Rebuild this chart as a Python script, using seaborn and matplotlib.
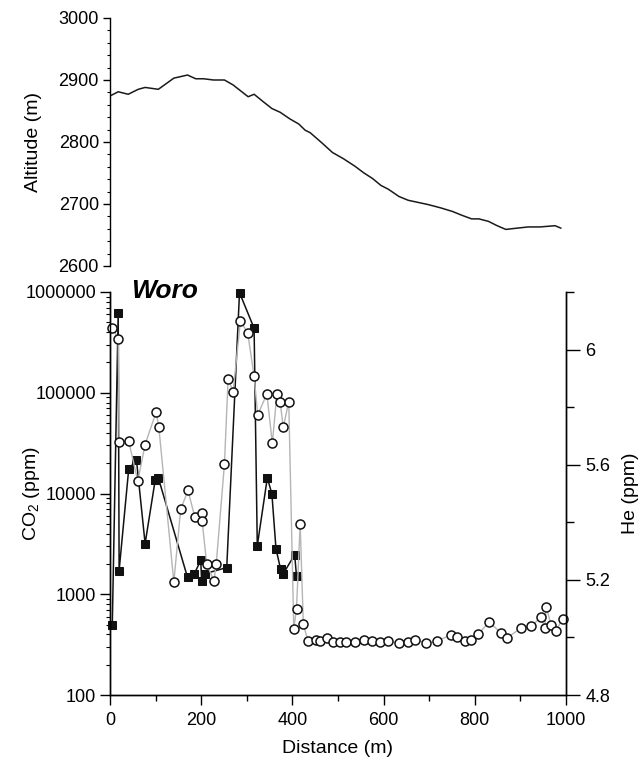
import numpy as np
import matplotlib
matplotlib.use("Agg")
import matplotlib.pyplot as plt
import seaborn as sns
from matplotlib.ticker import FixedLocator, LogLocator, NullFormatter, FuncFormatter, MultipleLocator

# === Altitude profile ===
alt_dist = [2, 18, 40, 62, 77, 106, 140, 170, 188, 205, 227, 251, 270, 303, 316, 336,
            355, 373, 395, 414, 428, 439, 464, 488, 512, 537, 557, 576, 594, 610, 634,
            654, 673, 698, 724, 751, 771, 793, 809, 830, 849, 868, 892, 917, 943, 976, 989]
alt = [2875, 2881, 2877, 2885, 2888, 2885, 2903, 2908, 2902, 2902, 2900, 2900, 2892, 2873,
       2877, 2865, 2854, 2848, 2837, 2829, 2819, 2815, 2799, 2783, 2773, 2761, 2750, 2741,
       2730, 2724, 2712, 2706, 2703, 2699, 2694, 2688, 2682, 2676, 2676, 2672, 2665, 2659,
       2661, 2663, 2663, 2665, 2661]

# === CO2 (ppm), black squares ===
co2_dist = [5, 18, 20, 41, 58, 77, 99, 106, 170, 185, 199, 201, 208, 256, 284, 316, 323,
            345, 355, 364, 374, 380, 405, 409]
co2 = [490, 620000, 1720, 17400, 21600, 3180, 13500, 14300, 1470, 1600, 2170, 1340, 1600,
       1840, 985000, 437000, 3030, 14300, 9930, 2830, 1780, 1600, 2470, 1510]

# === He (ppm), open circles ===
he_dist = [5, 18, 20, 41, 61, 77, 101, 107, 140, 155, 171, 186, 202, 202, 212, 228, 233,
           251, 259, 270, 286, 302, 316, 324, 344, 356, 366, 373, 380, 392, 403, 409, 417,
           424, 434, 452, 461, 475, 488, 504, 518, 538, 557, 575, 593, 609, 633, 653, 669,
           694, 718, 748, 762, 778, 792, 808, 831, 857, 871, 902, 924, 946, 953, 957, 967,
           977, 993]
he = [6.076, 6.038, 5.679, 5.682, 5.543, 5.670, 5.782, 5.732, 5.192, 5.445,
      5.511, 5.418, 5.432, 5.405, 5.256, 5.195, 5.256, 5.603, 5.898, 5.854,
      6.099, 6.058, 5.907, 5.773, 5.846, 5.674, 5.846, 5.819, 5.730, 5.819,
      5.030, 5.100, 5.394, 5.046, 4.988, 4.990, 4.988, 4.997, 4.985, 4.985,
      4.983, 4.985, 4.990, 4.988, 4.983, 4.988, 4.981, 4.983, 4.992, 4.981,
      4.988, 5.009, 5.003, 4.988, 4.990, 5.012, 5.053, 5.017, 4.999, 5.033,
      5.039, 5.072, 5.032, 5.106, 5.043, 5.022, 5.065]

co2_ticks = [100, 1000, 10000, 100000, 1000000]
he_ticks = [4.8, 5.2, 5.6, 6.0]
he_ticklabels = ["4.8", "5.2", "5.6", "6"]
he_minor = [5.0, 5.4, 5.8, 6.2]

sns.set_style("ticks", {"axes.edgecolor": "black", "xtick.color": "black",
                        "ytick.color": "black", "axes.labelcolor": "black",
                        "text.color": "black"})
plt.rcParams["font.family"] = ["Liberation Sans", "DejaVu Sans"]
plt.rcParams["mathtext.fontset"] = "custom"
plt.rcParams["mathtext.rm"] = "Liberation Sans"
plt.rcParams["mathtext.default"] = "regular"
plt.rcParams["axes.linewidth"] = 1.0

W, H = 643, 762
fig = plt.figure(figsize=(W / 100, H / 100), dpi=100)
ax_top = fig.add_axes([110 / W, 496 / H, 456 / W, 248 / H])
ax = fig.add_axes([110 / W, 67 / H, 456 / W, 403 / H])

# === Top panel: altitude ===
sns.lineplot(x=alt_dist, y=alt, ax=ax_top, color="#1a1a1a", lw=1.1,
             estimator=None, sort=False)
ax_top.set_xlim(0, 1000)
ax_top.set_ylim(2600, 3000)
for s in ["top", "right", "bottom"]:
    ax_top.spines[s].set_visible(False)
ax_top.set_xticks([])
ax_top.yaxis.set_major_locator(MultipleLocator(100))
ax_top.yaxis.set_minor_locator(MultipleLocator(20))
ax_top.tick_params(axis="y", which="major", length=5, width=1, labelsize=13, pad=3)
ax_top.tick_params(axis="y", which="minor", length=2.5, width=0.8)
ax_top.set_ylabel("Altitude (m)", fontsize=14)
ax_top.yaxis.set_label_coords(-0.15, 0.5)

# === Bottom panel: CO2 (log) ===
ax.set_yscale("log")
sns.lineplot(x=co2_dist, y=co2, ax=ax, color="#111111", lw=1.1, marker="s",
             markersize=6, markerfacecolor="#111111", markeredgecolor="#111111",
             estimator=None, sort=False, clip_on=False)
ax.set_xlim(0, 1000)
ax.set_ylim(100, 1000000)
ax.yaxis.set_major_locator(FixedLocator(co2_ticks))
ax.yaxis.set_major_formatter(FuncFormatter(lambda v, p: f"{v:.0f}"))
ax.yaxis.set_minor_locator(LogLocator(base=10, subs=np.arange(2, 10)))
ax.yaxis.set_minor_formatter(NullFormatter())
ax.xaxis.set_major_locator(MultipleLocator(200))
ax.xaxis.set_minor_locator(MultipleLocator(100))
ax.tick_params(axis="y", which="major", length=7, width=1, labelsize=13, pad=3)
ax.tick_params(axis="y", which="minor", length=3, width=0.8)
ax.tick_params(axis="x", which="major", length=7, width=1, labelsize=13, pad=5)
ax.tick_params(axis="x", which="minor", length=4, width=1)
ax.spines["top"].set_visible(False)
ax.set_ylabel("CO$_2$ (ppm)", fontsize=14)
ax.yaxis.set_label_coords(-0.15, 0.5)
ax.set_xlabel("Distance (m)", fontsize=14)
ax.xaxis.set_label_coords(0.5, -0.112)

# === He on twin axis ===
ax2 = ax.twinx()
sns.lineplot(x=he_dist, y=he, ax=ax2, color="#b5b5b5", lw=1.0, marker="o",
             markersize=6.5, markerfacecolor="white", markeredgecolor="#111111",
             markeredgewidth=1.1, estimator=None, sort=False, clip_on=False)
ax2.set_xlim(0, 1000)
ax2.set_ylim(4.8, 6.2)
ax2.set_yticks(he_ticks)
ax2.set_yticklabels(he_ticklabels)
ax2.yaxis.set_minor_locator(FixedLocator(he_minor))
ax2.tick_params(axis="y", which="major", length=10, width=1, labelsize=13, pad=4)
ax2.tick_params(axis="y", which="minor", length=5.5, width=1)
ax2.spines["top"].set_visible(False)
ax2.set_ylabel("He (ppm)", fontsize=14)
ax2.yaxis.set_label_coords(1.123, 0.5)

ax.text(0.046, 0.985, "Woro", transform=ax.transAxes, fontsize=19,
        fontweight="bold", fontstyle="italic", ha="left", va="baseline")

fig.savefig("out.png", dpi=100)
